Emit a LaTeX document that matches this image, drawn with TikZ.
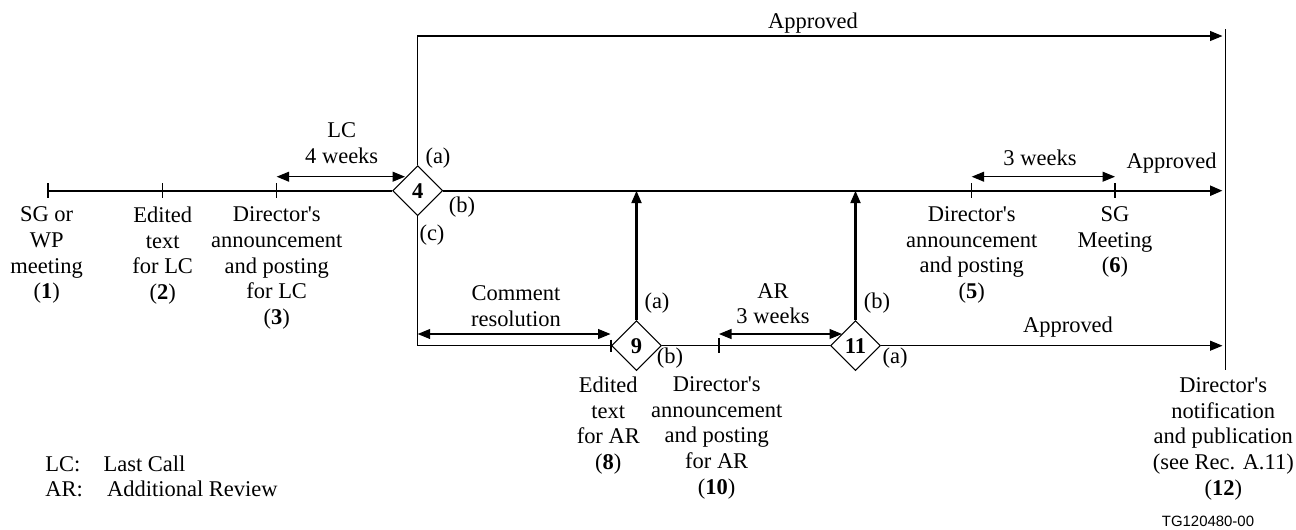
\documentclass[tikz,border=0pt]{standalone}
\usepackage{fontspec}
\setmainfont{Liberation Serif}
\newfontfamily\tgfont{Liberation Sans}
\usetikzlibrary{arrows.meta, shapes.geometric}

\newcommand{\ap}{\textquotesingle}

\tikzset{
  every node/.style={font=\fontsize{12.8}{14.6}\selectfont},
  txt/.style={align=center, anchor=north, inner sep=0pt},
  lbl/.style={inner sep=0pt},
  dia/.style={draw, shape=diamond, line width=0.6pt, minimum size=1cm, inner sep=0pt,
    font=\fontsize{12.8}{14.6}\selectfont\bfseries},
  mainline/.style={line width=1.3pt},
  thinline/.style={line width=0.6pt},
  tick/.style={line width=0.9pt},
}

\begin{document}
\begin{tikzpicture}[x=0.02cm, y=-0.02cm,
    >={Triangle[length=0.25cm, width=0.2cm]}]
    \useasboundingbox (0,0) rectangle (1296,529);

    % decision points
    \node[dia] (d4) at (417.7, 190.7) {4};
    \node[dia] (d9) at (636.5, 345.7) {9};
    \node[dia] (d11) at (855.5, 345.7) {11};

    % ticks on the lines
    \coordinate (t1) at (48, 190.7);
    \coordinate (t2) at (162.7, 190.7);
    \coordinate (t3) at (276.7, 190.7);
    \coordinate (t5) at (971.7, 190.7);
    \coordinate (t6) at (1115, 190.7);
    \coordinate (t8) at (611, 345.7);
    \coordinate (t10) at (719, 345.7);
    \coordinate (endtop) at (1222.5, 36);
    \coordinate (endmain) at (1222.5, 190.7);
    \coordinate (endlow) at (1222.5, 345.7);
    \coordinate (bartop) at (1225.7, 29);
    \coordinate (barbot) at (1225.7, 370);

    \draw[mainline] (t1) -- (d4.west);
    \draw[mainline, ->] (d4.east) -- (endmain);
    \draw[thinline, ->] (d4.north) |- (endtop);
    \draw[thinline] (d4.south) |- (d9.west);
    \draw[thinline] (d9.east) -- (d11.west);
    \draw[thinline, ->] (d11.east) -- (endlow);
    \draw[mainline, ->] (d9.north) -- (d9.north |- t1);
    \draw[mainline, ->] (d11.north) -- (d11.north |- t1);
    \draw[line width=0.7pt] (bartop) -- (barbot);

    \foreach \t in {t1, t2, t3, t5, t6, t10}
        \draw[tick] ([yshift=0.15cm]\t) -- ([yshift=-0.15cm]\t);
    \draw[tick] ([yshift=0.12cm]t8) -- ([yshift=-0.12cm]t8);

    % durations
    \coordinate (lc1) at (276.7, 176.7);
    \coordinate (lc2) at (405, 176.7);
    \coordinate (cr1) at (417.7, 334);
    \coordinate (cr2) at (610.5, 334);
    \coordinate (ar1) at (719, 334);
    \coordinate (ar2) at (842, 334);
    \coordinate (sg1) at (971.7, 176.7);
    \coordinate (sg2) at (1115, 176.7);
    \draw[thinline, <->] (lc1) -- (lc2);
    \draw[thinline, <->] (cr1) -- (cr2);
    \draw[thinline, <->] (ar1) -- (ar2);
    \draw[thinline, <->] (sg1) -- (sg2);

    \node[txt] (lc) at (341.7, 122.3) {LC\\4 weeks};
    \node[txt] (cres) at (516, 285.4) {Comment\\resolution};
    \node[txt] (ar) at (773, 283) {AR\\3 weeks};
    \node[lbl, anchor=base] (w3) at (1040, 165) {3 weeks};

    \node[lbl, anchor=base] (ap1) at (813, 28.3) {Approved};
    \node[lbl, anchor=base] (ap2) at (1171.7, 168.3) {Approved};
    \node[lbl, anchor=base] (ap3) at (1068, 332) {Approved};

    % branch labels
    \node[lbl] (d4a) at (438, 158) {(a)};
    \node[lbl] (d4b) at (462, 207) {(b)};
    \node[lbl] (d4c) at (432, 235) {(c)};
    \node[lbl] (d9a) at (657, 303) {(a)};
    \node[lbl] (d9b) at (670, 358) {(b)};
    \node[lbl] (d11b) at (877, 303) {(b)};
    \node[lbl] (d11a) at (895, 358.3) {(a)};

    % steps
    \node[txt] (n1) at (46.7, 206.7) {SG or\\WP\\meeting\\(\textbf{1})};
    \node[txt] (n2) at (162.7, 206.7) {Edited\\text\\for LC\\(\textbf{2})};
    \node[txt] (n3) at (276.7, 206.7) {Director\ap s\\announcement\\and posting\\for LC\\(\textbf{3})};
    \node[txt] (n5) at (971.7, 206.4) {Director\ap s\\announcement\\and posting\\(\textbf{5})};
    \node[txt] (n6) at (1115, 206.4) {SG\\Meeting\\(\textbf{6})};
    \node[txt] (n8) at (608.3, 376.4) {Edited\\text\\for AR\\(\textbf{8})};
    \node[txt] (n10) at (716.7, 376.4) {Director\ap s\\announcement\\and posting\\for AR\\(\textbf{10})};
    \node[txt] (n12) at (1223.3, 377.4) {Director\ap s\\notification\\and publication\\(see Rec. A.11)\\(\textbf{12})};

    % legend
    \node[lbl, anchor=base west] (lckey) at (45, 471.7) {LC:};
    \node[lbl, anchor=base west] (lcval) at (103.3, 471.7) {Last Call};
    \node[lbl, anchor=base west] (arkey) at (45, 496.7) {AR:};
    \node[lbl, anchor=base west] (arval) at (106.7, 496.7) {Additional Review};

    \node[lbl, anchor=base, font=\tgfont\fontsize{8.5}{10}\selectfont] (tg) at (1208, 526.7) {TG120480-00};
\end{tikzpicture}
\end{document}
